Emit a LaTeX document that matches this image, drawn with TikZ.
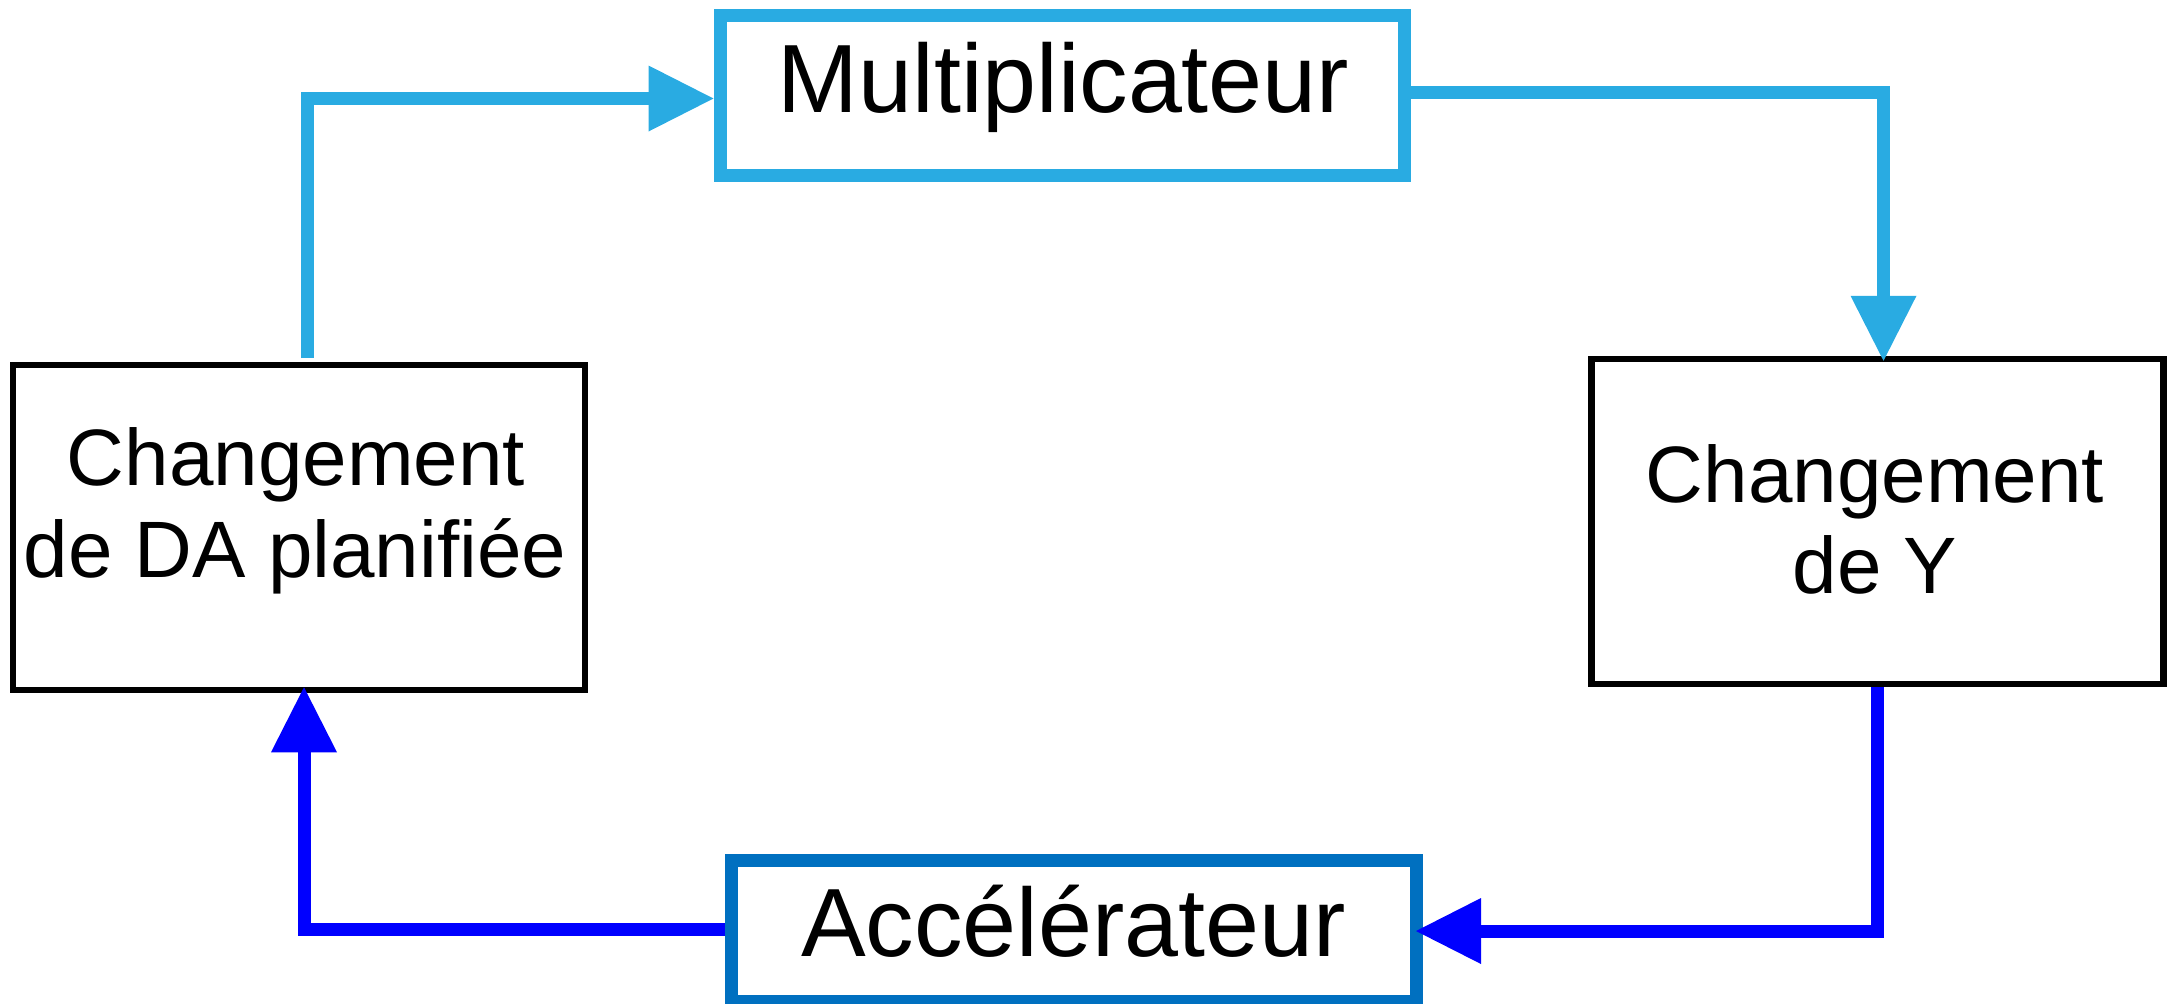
\documentclass[tikz,border=0pt]{standalone}
\usepackage{fontspec}
\setmainfont{Liberation Sans}
\usetikzlibrary{arrows.meta,calc}
\definecolor{lightblueC}{RGB}{41,171,226}
\definecolor{accblueC}{RGB}{0,112,192}
\definecolor{pureblueC}{RGB}{0,0,255}
\begin{document}
\begin{tikzpicture}[x=0.5pt,y=-0.5pt,
  blackbox/.style={draw=black,line width=3.25pt,inner sep=0pt,minimum width=286pt,minimum height=162.5pt},
  bigbox/.style={draw=#1,line width=6.5pt,inner sep=0pt},
  bigtxt/.style={anchor=base,inner sep=0pt,font=\fontsize{48.5}{58}\selectfont},
  smalltxt/.style={anchor=base,inner sep=0pt,font=\fontsize{40}{48}\selectfont},
  conn/.style={draw=#1,line width=6.5pt,line join=miter,line cap=butt},
  tip/.style={-{Triangle[length=32.5pt,width=33pt,line width=0pt]}}
]
\useasboundingbox (0,0) rectangle (2168,1003);

% boxes
\node[bigbox=lightblueC,minimum width=342pt,minimum height=80pt] (mul) at (1062,95.5) {};
\node[bigbox=accblueC,minimum width=342.5pt,minimum height=70.5pt] (acc) at (1073.5,930.5) {};
\node[blackbox] (lb) at (299,527.5) {};
\node[blackbox] (rb) at (1877.5,521.5) {};

% texts
\node[bigtxt] (multxt) at (1063.5,112) {Multiplicateur};
\node[bigtxt] (acctxt) at (1073.5,956) {Accélérateur};
\node[smalltxt] (lbtxta) at (296,485) {Changement};
\node[smalltxt] (lbtxtb) at (295,577) {de DA planifiée};
\node[smalltxt] (rbtxta) at (1875,502) {Changement};
\node[smalltxt] (rbtxtb) at (1875,593) {de Y};

% connectors
\draw[conn=lightblueC,tip] ($(lb.north)+(8.5,-3.75)$) |- ($(mul.west)+(0,3)$);
\draw[conn=lightblueC,tip] ($(mul.east)+(0,-3)$) -| ($(rb.north)+(6,5)$);
\draw[conn=pureblueC,tip] (rb.south) |- ($(acc.east)+(-6.5,0.5)$);
\draw[conn=pureblueC,tip] ($(acc.west)+(0,-1.5)$) -| ($(lb.south)+(5,-6)$);
\end{tikzpicture}
\end{document}
